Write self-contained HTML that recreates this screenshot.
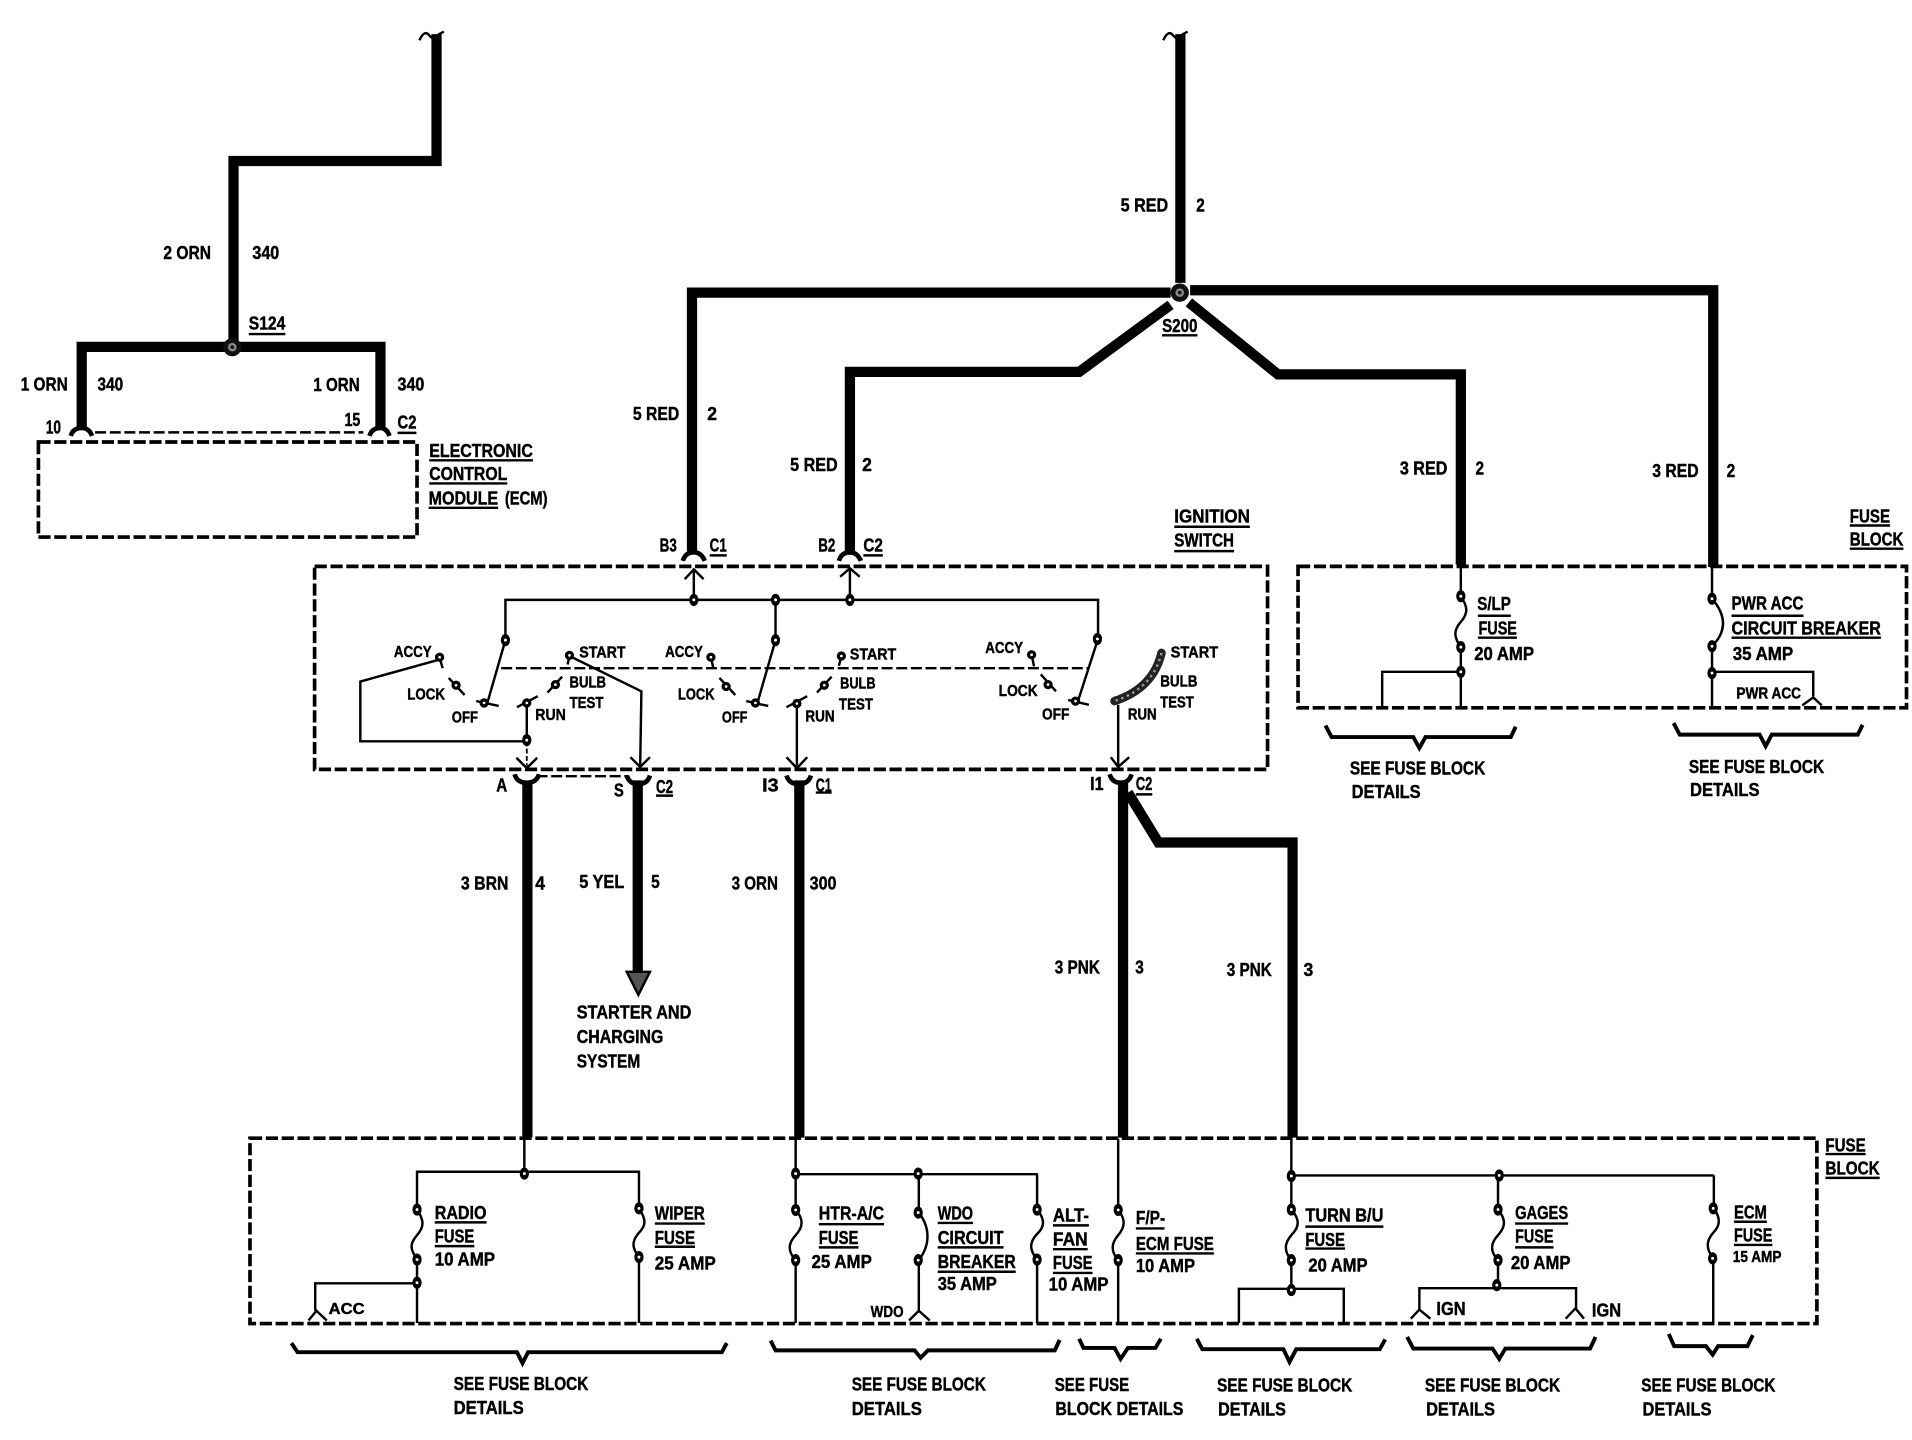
<!DOCTYPE html>
<html><head><meta charset="utf-8"><title>Wiring diagram</title>
<style>
html,body{margin:0;padding:0;background:#fff}
svg{display:block}
text{font-family:"Liberation Sans",sans-serif;font-weight:bold;font-size:15px;dominant-baseline:central;fill:#000;stroke:#000;stroke-width:.35px}
.s{font-size:13px}
</style></head><body>
<svg width="1912" height="1440" viewBox="0 0 1568 1181" preserveAspectRatio="none" xmlns="http://www.w3.org/2000/svg">
<defs>
<g id="n"><ellipse rx="3.8" ry="5" fill="#000"/><circle r="1.2" fill="#fff"/></g>
<g id="b"><circle r="7.5" fill="#111"/><circle r="3.5" fill="#888"/><circle r="1.5" fill="#111"/></g>
<g id="m"><circle r="3.8" fill="#000"/><circle r="1.1" fill="#fff"/></g>
</defs>
<!-- thick wires -->
<g fill="none" stroke="#000" stroke-width="8.4" stroke-linejoin="miter">
<path d="M358,28V132H191.500V280"/>
<path d="M67,350V284.500H312V350"/>
<path d="M968,28V232"/>
<path d="M960,240H567.500V452"/>
<path d="M976,238H1405V465"/>
<path d="M960,250L885,305H697V455"/>
<path d="M975,248L1048,307H1198V463"/>
<path d="M432.500,640V933"/>
<path d="M523,640V798"/>
<path d="M655.500,640V933"/>
<path d="M921,640V933"/>
<path d="M925,650L950,691H1060V933"/>
</g>
<path d="M344,33q4,-9 8,-4t8,-1q2,-1 4,-2M954,33q4,-9 8,-4t8,-1q2,-1 4,-2" fill="none" stroke="#000" stroke-width="2"/>
<path d="M514,797H533L523.500,816Z" fill="#555" stroke="#000" stroke-width="2"/>
<!-- dashed boxes -->
<g fill="none" stroke="#000" stroke-width="3" stroke-dasharray="10 3">
<rect x="31.500" y="362.500" width="310.500" height="78"/>
<rect x="258" y="464.500" width="781.500" height="166.500"/>
<rect x="1064.500" y="464.500" width="499" height="116"/>
<rect x="205" y="933.500" width="1285" height="152"/>
</g>
<g fill="none" stroke="#000" stroke-width="2" stroke-dasharray="9 3">
<path d="M78,354.600H298"/>
<path d="M411,548H892"/>
<path d="M440,636.600H515"/>
</g>
<path d="M432,608V628" fill="none" stroke="#000" stroke-width="1.500" stroke-dasharray="4 2"/>
<!-- connector arches -->
<g fill="none" stroke="#000" stroke-width="3.800">
<path d="M58,357.500Q60,351 67,351Q73,351 75.500,357.500"/>
<path d="M303,357.500Q305,351 312,351Q317,351 319.500,357.500"/>
<path d="M560,460Q562,453 569,453Q575,453 578,460"/>
<path d="M688,460Q690,453 697,453Q703,453 706,460"/>
<path d="M422,635Q424,642 432,642Q440,642 442,635"/>
<path d="M514,636Q516,643 523.500,643Q531,643 533,636"/>
<path d="M645,636Q647,643 655,643Q663,643 665,636"/>
<path d="M910,635Q912,642 919,642Q926,642 928,635"/>
</g>
<!-- switch thin wiring -->
<g fill="none" stroke="#000" stroke-width="2">
<path d="M414.500,525V492H900.500V524L884,575" />
<path d="M414.500,525L399.500,577"/>
<path d="M636,492V525L621,577"/>
<path d="M569,492V467M561.500,475L569,467L577,475"/>
<path d="M697,492V466M689,473L697,466L705,473"/>
<path d="M360,541L295.500,559V608H432V578"/>
<path d="M467,538L526,567L525,628M517,621L525,629L533,621"/>
<path d="M653.500,578V628M645,621L653.500,630L662,621"/>
<path d="M917,578V628M911,621L917,629L926,621"/>
<path d="M423.500,621.500L432,630L440.500,621.500"/>
<path d="M361,541L363,548M368,556L381,570M390.500,575L409,579M424,580L441,571M449,568L461,555M467,538L465.500,545"/>
<path d="M583,539L585,548M590,556L603,570M612,575L630,579M645,580L662,571M670,568L682,555M690,538L688,546"/>
<path d="M846,537L848,546.500M853.500,553L866,567M876,574L893,578"/>
</g>
<path d="M952.500,535.500C948,555 935,568 914,575" fill="none" stroke="#222" stroke-width="7" stroke-linecap="round"/>
<path d="M952.500,535.500C948,555 935,568 914,575" fill="none" stroke="#999" stroke-width="2" stroke-dasharray="2 3"/>
<!-- top right fuse block wiring -->
<g fill="none" stroke="#000" stroke-width="2">
<path d="M1198,463V489C1204,498 1204,503 1198,510C1192,517 1192,522 1198,531V580"/>
<path d="M1198,551H1133.500V579"/>
<path d="M1404,463V491C1416,505 1416,518 1404,530V580"/>
<path d="M1404,551H1487V571M1478,578.500L1487,572L1494,578.500"/>
<!-- bottom fuse wiring -->
<path d="M430,934V962"/>
<path d="M342,1085V1052V1033C336,1024 336,1020 342,1013C348,1006 348,1001 342,992V961H524V991C530,1000 530,1005 524,1011C518,1018 518,1023 524,1031V1085"/>
<path d="M342,1052.500H258.500V1075M253,1083L259.500,1075L268,1083"/>
<path d="M652.500,934V992C659,1000 659,1006 652.500,1013C646,1020 646,1026 652.500,1034V1085"/>
<path d="M652.500,963H851"/>
<path d="M753.500,963V994.500C763,1007 763,1021 753.500,1033.500V1076M745.500,1083L753.500,1075L762.500,1083"/>
<path d="M850.500,963V992C857,1000 857,1006 850.500,1012C844,1019 844,1025 850.500,1033V1085"/>
<path d="M917,934V992C923,1000 923,1006 917,1013C911,1020 911,1026 917,1034V1085"/>
<path d="M1059,934V992C1066,1000 1066,1006 1059,1013C1053,1020 1053,1026 1059,1034V1057"/>
<path d="M1016,1085V1057H1102V1085"/>
<path d="M1059,964H1405.500"/>
<path d="M1228.500,964V992C1235,1000 1235,1006 1228.500,1013C1222,1020 1222,1026 1228.500,1034V1056"/>
<path d="M1164,1074V1056.500H1292.500V1073M1157,1081.500L1164,1074L1173,1081.500M1284,1081.500L1292,1073L1299,1081.500"/>
<path d="M1405.500,964V991C1411,999 1411,1005 1405,1011C1399,1018 1399,1024 1405,1032V1085"/>
</g>
<!-- braces -->
<g fill="none" stroke="#000" stroke-width="3.200" stroke-linejoin="miter">
<path d="M1087,595L1092,604.500H1159L1164,613.500L1169,604.500H1239L1243,596"/>
<path d="M1372.500,593L1377.500,602.500H1443L1448,612L1453,602.500H1523.500L1527.500,594.500"/>
<path d="M239,1101.500L244,1109H424L428.500,1118L433,1109H592L596,1101.500"/>
<path d="M632,1099.500L636,1107.500H750L755,1113.500L761,1107.500H865L869,1099"/>
<path d="M885,1098L888.500,1105.500H914L919,1114.500L925,1105.500H947.500L952,1098"/>
<path d="M981.500,1098L986,1106.500H1052.500L1057.500,1117L1063,1106.500H1131.500L1136,1098.500"/>
<path d="M1154,1096.500L1159,1106H1224L1229.500,1114.500L1234.500,1106H1304L1308.500,1096.500"/>
<path d="M1368.500,1094L1373,1104H1399L1404.500,1111L1409,1104H1433L1437.500,1095"/>
</g>
<!-- nodes -->
<use href="#b" x="190.500" y="284.700"/>
<use href="#b" x="967.500" y="240"/>
<g>
<use href="#n" x="569" y="492"/><use href="#n" x="636" y="492"/><use href="#n" x="697" y="492"/>
<use href="#n" x="414.500" y="525"/><use href="#n" x="636" y="525"/><use href="#n" x="900" y="524"/>
<use href="#m" x="360.500" y="539"/><use href="#m" x="374" y="562"/><use href="#m" x="397" y="576.500"/><use href="#m" x="432" y="576.500"/><use href="#m" x="455.500" y="561.500"/><use href="#m" x="467" y="537.500"/><use href="#n" x="432" y="607"/>
<use href="#m" x="583" y="539"/><use href="#m" x="595.500" y="563"/><use href="#m" x="619.500" y="576.500"/><use href="#m" x="653.500" y="577"/><use href="#m" x="676" y="562"/><use href="#m" x="690" y="538"/>
<use href="#m" x="846" y="537"/><use href="#m" x="859.500" y="561.500"/><use href="#m" x="882" y="575"/>
<use href="#n" x="1198" y="489"/><use href="#n" x="1198" y="530.700"/><use href="#n" x="1198" y="551"/>
<use href="#n" x="1404" y="491"/><use href="#n" x="1404" y="530"/><use href="#n" x="1404" y="552"/>
<use href="#n" x="430" y="962.500"/><use href="#n" x="342" y="992"/><use href="#n" x="342" y="1033"/><use href="#n" x="342" y="1052"/><use href="#n" x="524" y="991"/><use href="#n" x="524" y="1031"/>
<use href="#n" x="652.500" y="962.500"/><use href="#n" x="652.500" y="992.300"/><use href="#n" x="652.500" y="1033.500"/>
<use href="#n" x="753" y="962.500"/><use href="#n" x="753" y="994.500"/><use href="#n" x="753" y="1033.500"/>
<use href="#n" x="850.500" y="992"/><use href="#n" x="850.500" y="1033"/>
<use href="#n" x="917" y="992.300"/><use href="#n" x="917" y="1033.500"/>
<use href="#n" x="1059" y="964.500"/><use href="#n" x="1059" y="992"/><use href="#n" x="1059" y="1033.500"/><use href="#n" x="1059" y="1058"/>
<use href="#n" x="1229.500" y="964"/><use href="#n" x="1228.500" y="992"/><use href="#n" x="1228.500" y="1033.500"/><use href="#n" x="1227.500" y="1054"/>
<use href="#n" x="1405" y="991"/><use href="#n" x="1404.500" y="1032"/>
</g>
<!-- underlines -->
<path fill="none" stroke="#000" stroke-width="2" d="M204,274H234M326,355H341.500M352,377.500H437M352,396.500H416M351.500,416.500H408.500M582,455.500H596M708,455.500H724M963,432H1025M963,452H1012M953,275H982M1517,431H1550M1517,450H1561M538,652.500H552M669,650H682M931.500,651.500H945M1212,505H1239M1212,523H1244M1420,505H1479M1420,523H1542.500M356.500,1002.500H399M356.500,1022H389M537,1003.500H578M537,1022.500H570M671.500,1004H725M671.500,1023H704M769,1003H798M769,1023H823M769,1043H833M863.500,1005H893M863.500,1024.500H892M863.500,1044H896M931.500,1007.500H955M931.500,1028H995.500M1070.500,1006H1134.500M1070.500,1024H1103M1242.500,1003.500H1286M1242.500,1023H1274M1422,1002H1449M1422,1021H1453.500M1497,946.500H1530M1497,966H1541.500"/>
<!-- labels -->
<text x="134" y="207" textLength="39" lengthAdjust="spacingAndGlyphs">2 ORN</text>
<text x="207" y="207" textLength="22" lengthAdjust="spacingAndGlyphs">340</text>
<text x="204" y="265" textLength="30" lengthAdjust="spacingAndGlyphs">S124</text>
<text x="17" y="315" textLength="38.500" lengthAdjust="spacingAndGlyphs">1 ORN</text>
<text x="80" y="315" textLength="21" lengthAdjust="spacingAndGlyphs">340</text>
<text x="257" y="315.500" textLength="38" lengthAdjust="spacingAndGlyphs">1 ORN</text>
<text x="326" y="315" textLength="22" lengthAdjust="spacingAndGlyphs">340</text>
<text x="37.500" y="350" textLength="12.500" lengthAdjust="spacingAndGlyphs">10</text>
<text x="282.500" y="344" textLength="13" lengthAdjust="spacingAndGlyphs">15</text>
<text x="326" y="346" textLength="15.500" lengthAdjust="spacingAndGlyphs">C2</text>
<text x="352" y="369.500" textLength="85" lengthAdjust="spacingAndGlyphs">ELECTRONIC</text>
<text x="352" y="388.500" textLength="64" lengthAdjust="spacingAndGlyphs">CONTROL</text>
<text x="351.500" y="408.500" textLength="57" lengthAdjust="spacingAndGlyphs">MODULE</text>
<text x="414" y="408.500" textLength="35" lengthAdjust="spacingAndGlyphs">(ECM)</text>
<text x="919" y="168" textLength="39" lengthAdjust="spacingAndGlyphs">5 RED</text>
<text x="981" y="168" textLength="7" lengthAdjust="spacingAndGlyphs">2</text>
<text x="953" y="267" textLength="29" lengthAdjust="spacingAndGlyphs">S200</text>
<text x="519" y="339" textLength="38" lengthAdjust="spacingAndGlyphs">5 RED</text>
<text x="580" y="339" textLength="8" lengthAdjust="spacingAndGlyphs">2</text>
<text x="648" y="381" textLength="39" lengthAdjust="spacingAndGlyphs">5 RED</text>
<text x="707" y="381" textLength="8" lengthAdjust="spacingAndGlyphs">2</text>
<text x="1148" y="384" textLength="39" lengthAdjust="spacingAndGlyphs">3 RED</text>
<text x="1210" y="384" textLength="7" lengthAdjust="spacingAndGlyphs">2</text>
<text x="1355" y="386" textLength="38" lengthAdjust="spacingAndGlyphs">3 RED</text>
<text x="1416" y="386" textLength="7" lengthAdjust="spacingAndGlyphs">2</text>
<text x="963" y="423" textLength="62" lengthAdjust="spacingAndGlyphs">IGNITION</text>
<text x="963" y="443" textLength="49" lengthAdjust="spacingAndGlyphs">SWITCH</text>
<text x="1517" y="423" textLength="33" lengthAdjust="spacingAndGlyphs">FUSE</text>
<text x="1517" y="442" textLength="44" lengthAdjust="spacingAndGlyphs">BLOCK</text>
<text x="541" y="447" textLength="14" lengthAdjust="spacingAndGlyphs">B3</text>
<text x="582" y="447" textLength="14" lengthAdjust="spacingAndGlyphs">C1</text>
<text x="671" y="447" textLength="14" lengthAdjust="spacingAndGlyphs">B2</text>
<text x="708" y="447" textLength="16" lengthAdjust="spacingAndGlyphs">C2</text>
<text class="s" x="323" y="535" textLength="31" lengthAdjust="spacingAndGlyphs">ACCY</text>
<text class="s" x="334" y="570" textLength="31" lengthAdjust="spacingAndGlyphs">LOCK</text>
<text class="s" x="370.500" y="589" textLength="21.500" lengthAdjust="spacingAndGlyphs">OFF</text>
<text class="s" x="439" y="587" textLength="25" lengthAdjust="spacingAndGlyphs">RUN</text>
<text class="s" x="467" y="560" textLength="30" lengthAdjust="spacingAndGlyphs">BULB</text>
<text class="s" x="467" y="577" textLength="28" lengthAdjust="spacingAndGlyphs">TEST</text>
<text class="s" x="475" y="535.500" textLength="38" lengthAdjust="spacingAndGlyphs">START</text>
<text class="s" x="545.500" y="535" textLength="31" lengthAdjust="spacingAndGlyphs">ACCY</text>
<text class="s" x="556" y="570" textLength="30" lengthAdjust="spacingAndGlyphs">LOCK</text>
<text class="s" x="592" y="589" textLength="21" lengthAdjust="spacingAndGlyphs">OFF</text>
<text class="s" x="660.500" y="588" textLength="24" lengthAdjust="spacingAndGlyphs">RUN</text>
<text class="s" x="689" y="561" textLength="29" lengthAdjust="spacingAndGlyphs">BULB</text>
<text class="s" x="688" y="578" textLength="28" lengthAdjust="spacingAndGlyphs">TEST</text>
<text class="s" x="697" y="537" textLength="38" lengthAdjust="spacingAndGlyphs">START</text>
<text class="s" x="808" y="532" textLength="31" lengthAdjust="spacingAndGlyphs">ACCY</text>
<text class="s" x="819" y="567" textLength="32" lengthAdjust="spacingAndGlyphs">LOCK</text>
<text class="s" x="854.500" y="586.500" textLength="22.500" lengthAdjust="spacingAndGlyphs">OFF</text>
<text class="s" x="925" y="586.500" textLength="23.500" lengthAdjust="spacingAndGlyphs">RUN</text>
<text class="s" x="951.500" y="559.500" textLength="30.500" lengthAdjust="spacingAndGlyphs">BULB</text>
<text class="s" x="951.500" y="576.500" textLength="27.500" lengthAdjust="spacingAndGlyphs">TEST</text>
<text class="s" x="960" y="535.500" textLength="39" lengthAdjust="spacingAndGlyphs">START</text>
<text x="407" y="644" textLength="9" lengthAdjust="spacingAndGlyphs">A</text>
<text x="503.500" y="648" textLength="8" lengthAdjust="spacingAndGlyphs">S</text>
<text x="538" y="645" textLength="14" lengthAdjust="spacingAndGlyphs">C2</text>
<text x="625" y="644" textLength="13.500" lengthAdjust="spacingAndGlyphs">I3</text>
<text x="669" y="644" textLength="13" lengthAdjust="spacingAndGlyphs">C1</text>
<text x="894" y="642.500" textLength="11" lengthAdjust="spacingAndGlyphs">I1</text>
<text x="931.500" y="642.500" textLength="13.500" lengthAdjust="spacingAndGlyphs">C2</text>
<text x="378" y="724" textLength="39" lengthAdjust="spacingAndGlyphs">3 BRN</text>
<text x="439" y="724" textLength="8" lengthAdjust="spacingAndGlyphs">4</text>
<text x="475" y="723" textLength="37" lengthAdjust="spacingAndGlyphs">5 YEL</text>
<text x="534" y="723" textLength="7" lengthAdjust="spacingAndGlyphs">5</text>
<text x="600" y="724" textLength="38" lengthAdjust="spacingAndGlyphs">3 ORN</text>
<text x="664" y="724" textLength="22" lengthAdjust="spacingAndGlyphs">300</text>
<text x="865" y="793" textLength="37" lengthAdjust="spacingAndGlyphs">3 PNK</text>
<text x="931" y="793" textLength="7" lengthAdjust="spacingAndGlyphs">3</text>
<text x="1006" y="795" textLength="37" lengthAdjust="spacingAndGlyphs">3 PNK</text>
<text x="1069" y="795" textLength="8" lengthAdjust="spacingAndGlyphs">3</text>
<text x="473" y="830" textLength="94" lengthAdjust="spacingAndGlyphs">STARTER AND</text>
<text x="473" y="850" textLength="71" lengthAdjust="spacingAndGlyphs">CHARGING</text>
<text x="473" y="870" textLength="52" lengthAdjust="spacingAndGlyphs">SYSTEM</text>
<text x="1211.500" y="495" textLength="27.500" lengthAdjust="spacingAndGlyphs">S/LP</text>
<text x="1212.500" y="515" textLength="31.500" lengthAdjust="spacingAndGlyphs">FUSE</text>
<text x="1209" y="536" textLength="49" lengthAdjust="spacingAndGlyphs">20 AMP</text>
<text x="1420" y="494.500" textLength="59" lengthAdjust="spacingAndGlyphs">PWR ACC</text>
<text x="1420" y="515" textLength="122.500" lengthAdjust="spacingAndGlyphs">CIRCUIT BREAKER</text>
<text x="1421" y="536" textLength="49.500" lengthAdjust="spacingAndGlyphs">35 AMP</text>
<text class="s" x="1424" y="569" textLength="53" lengthAdjust="spacingAndGlyphs">PWR ACC</text>
<text x="1107" y="630" textLength="111" lengthAdjust="spacingAndGlyphs">SEE FUSE BLOCK</text>
<text x="1108.500" y="649" textLength="56.500" lengthAdjust="spacingAndGlyphs">DETAILS</text>
<text x="1385" y="628.500" textLength="111" lengthAdjust="spacingAndGlyphs">SEE FUSE BLOCK</text>
<text x="1386" y="647.500" textLength="57" lengthAdjust="spacingAndGlyphs">DETAILS</text>
<text x="1497" y="939" textLength="33" lengthAdjust="spacingAndGlyphs">FUSE</text>
<text x="1497" y="958" textLength="44.500" lengthAdjust="spacingAndGlyphs">BLOCK</text>
<text x="356.500" y="994.500" textLength="42.500" lengthAdjust="spacingAndGlyphs">RADIO</text>
<text x="356.500" y="1013.500" textLength="32.500" lengthAdjust="spacingAndGlyphs">FUSE</text>
<text x="356.500" y="1032.500" textLength="49.500" lengthAdjust="spacingAndGlyphs">10 AMP</text>
<text x="537" y="995" textLength="41" lengthAdjust="spacingAndGlyphs">WIPER</text>
<text x="537" y="1015" textLength="33" lengthAdjust="spacingAndGlyphs">FUSE</text>
<text x="537" y="1036" textLength="50" lengthAdjust="spacingAndGlyphs">25 AMP</text>
<text class="s" x="269.500" y="1074" textLength="29.500" lengthAdjust="spacingAndGlyphs">ACC</text>
<text x="671.500" y="995" textLength="53.500" lengthAdjust="spacingAndGlyphs">HTR-A/C</text>
<text x="671.500" y="1015" textLength="32.500" lengthAdjust="spacingAndGlyphs">FUSE</text>
<text x="665.500" y="1034.500" textLength="49.500" lengthAdjust="spacingAndGlyphs">25 AMP</text>
<text x="769" y="995" textLength="29" lengthAdjust="spacingAndGlyphs">WDO</text>
<text x="769" y="1015" textLength="54" lengthAdjust="spacingAndGlyphs">CIRCUIT</text>
<text x="769" y="1034.500" textLength="64" lengthAdjust="spacingAndGlyphs">BREAKER</text>
<text x="769" y="1052.500" textLength="48.500" lengthAdjust="spacingAndGlyphs">35 AMP</text>
<text class="s" x="714" y="1076.500" textLength="27" lengthAdjust="spacingAndGlyphs">WDO</text>
<text x="863.500" y="996.500" textLength="29.500" lengthAdjust="spacingAndGlyphs">ALT-</text>
<text x="863.500" y="1016" textLength="28.500" lengthAdjust="spacingAndGlyphs">FAN</text>
<text x="863.500" y="1035.500" textLength="32.500" lengthAdjust="spacingAndGlyphs">FUSE</text>
<text x="860" y="1053" textLength="49" lengthAdjust="spacingAndGlyphs">10 AMP</text>
<text x="931.500" y="998.500" textLength="24" lengthAdjust="spacingAndGlyphs">F/P-</text>
<text x="931.500" y="1020" textLength="64" lengthAdjust="spacingAndGlyphs">ECM FUSE</text>
<text x="931.500" y="1038" textLength="48.500" lengthAdjust="spacingAndGlyphs">10 AMP</text>
<text x="1070.500" y="996.500" textLength="64" lengthAdjust="spacingAndGlyphs">TURN B/U</text>
<text x="1070.500" y="1016.500" textLength="32.500" lengthAdjust="spacingAndGlyphs">FUSE</text>
<text x="1073" y="1037.500" textLength="48.500" lengthAdjust="spacingAndGlyphs">20 AMP</text>
<text x="1242.500" y="994.500" textLength="43.500" lengthAdjust="spacingAndGlyphs">GAGES</text>
<text x="1242.500" y="1013.500" textLength="31.500" lengthAdjust="spacingAndGlyphs">FUSE</text>
<text x="1239" y="1035.500" textLength="49" lengthAdjust="spacingAndGlyphs">20 AMP</text>
<text x="1178" y="1073" textLength="24" lengthAdjust="spacingAndGlyphs">IGN</text>
<text x="1305.500" y="1074.500" textLength="24" lengthAdjust="spacingAndGlyphs">IGN</text>
<text x="1422" y="994" textLength="27" lengthAdjust="spacingAndGlyphs">ECM</text>
<text x="1422" y="1013" textLength="31.500" lengthAdjust="spacingAndGlyphs">FUSE</text>
<text class="s" x="1421" y="1031.500" textLength="40" lengthAdjust="spacingAndGlyphs">15 AMP</text>
<text x="372" y="1134.500" textLength="110.500" lengthAdjust="spacingAndGlyphs">SEE FUSE BLOCK</text>
<text x="372" y="1154.500" textLength="57.500" lengthAdjust="spacingAndGlyphs">DETAILS</text>
<text x="698.500" y="1135" textLength="110" lengthAdjust="spacingAndGlyphs">SEE FUSE BLOCK</text>
<text x="698.500" y="1155" textLength="57.500" lengthAdjust="spacingAndGlyphs">DETAILS</text>
<text x="865" y="1135.500" textLength="61" lengthAdjust="spacingAndGlyphs">SEE FUSE</text>
<text x="865.500" y="1155" textLength="105" lengthAdjust="spacingAndGlyphs">BLOCK DETAILS</text>
<text x="998" y="1136" textLength="111" lengthAdjust="spacingAndGlyphs">SEE FUSE BLOCK</text>
<text x="999" y="1155.500" textLength="55.500" lengthAdjust="spacingAndGlyphs">DETAILS</text>
<text x="1168.500" y="1136" textLength="111" lengthAdjust="spacingAndGlyphs">SEE FUSE BLOCK</text>
<text x="1169.500" y="1155.500" textLength="56.500" lengthAdjust="spacingAndGlyphs">DETAILS</text>
<text x="1346" y="1136" textLength="110" lengthAdjust="spacingAndGlyphs">SEE FUSE BLOCK</text>
<text x="1347" y="1155.500" textLength="56.500" lengthAdjust="spacingAndGlyphs">DETAILS</text>
</svg>
</body></html>
